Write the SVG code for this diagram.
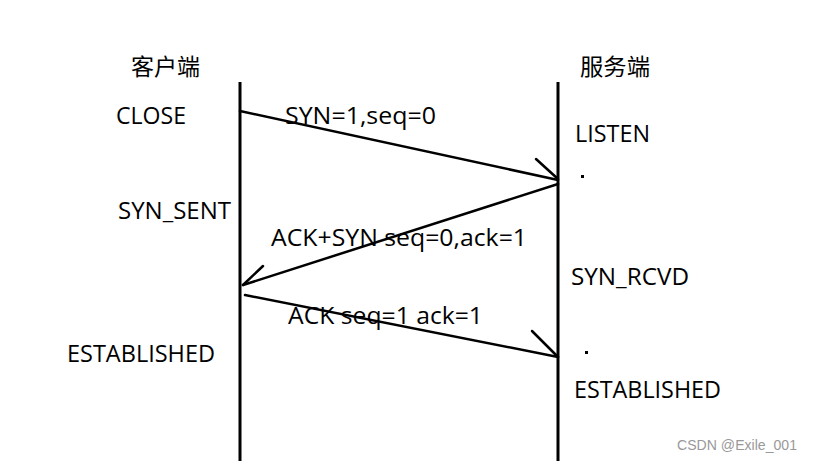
<svg xmlns="http://www.w3.org/2000/svg" width="813" height="461" viewBox="0 0 813 461">
<style>
.t{font-family:"Microsoft YaHei","Open Sans","Noto Sans CJK SC",sans-serif;font-size:23px;fill:#000}
.ln{stroke:#000;stroke-width:3;fill:none}
.ar{stroke:#000;stroke-width:2.5;fill:none;stroke-linecap:round}
.wm{font-family:"Liberation Sans",sans-serif;font-size:14px;fill:#999}
</style>
<rect width="813" height="461" fill="#fff"/>
<g id="client">
<line class="ln" x1="240" y1="82" x2="240" y2="461"/>
<text class="t" x="131" y="75" textLength="69" lengthAdjust="spacingAndGlyphs">客户端</text>
<text class="t" x="116" y="124" textLength="70" lengthAdjust="spacingAndGlyphs">CLOSE</text>
<text class="t" x="118" y="219" textLength="113" lengthAdjust="spacingAndGlyphs">SYN_SENT</text>
<text class="t" x="67" y="362" textLength="148" lengthAdjust="spacingAndGlyphs">ESTABLISHED</text>
</g>
<g id="server">
<line class="ln" x1="558" y1="82" x2="558" y2="461"/>
<text class="t" x="580" y="75" textLength="70" lengthAdjust="spacingAndGlyphs">服务端</text>
<text class="t" x="575" y="142" textLength="75" lengthAdjust="spacingAndGlyphs">LISTEN</text>
<rect x="581" y="175" width="3" height="3" fill="#000"/>
<text class="t" x="571" y="285" textLength="118" lengthAdjust="spacingAndGlyphs">SYN_RCVD</text>
<rect x="585" y="351" width="3" height="3" fill="#000"/>
<text class="t" x="574" y="398" textLength="147" lengthAdjust="spacingAndGlyphs">ESTABLISHED</text>
</g>
<g id="connectors">
<line class="ar" x1="240" y1="111" x2="558" y2="180"/>
<line class="ar" x1="536" y1="159" x2="558" y2="179"/>
<line class="ar" x1="558" y1="184" x2="243" y2="285"/>
<line class="ar" x1="263" y1="266" x2="243" y2="285"/>
<line class="ar" x1="245" y1="295" x2="558" y2="357"/>
<line class="ar" x1="532" y1="331" x2="558" y2="357"/>
<text class="t" x="285" y="124" textLength="151" lengthAdjust="spacingAndGlyphs">SYN=1,seq=0</text>
<text class="t" x="271" y="246" textLength="256" lengthAdjust="spacingAndGlyphs">ACK+SYN seq=0,ack=1</text>
<text class="t" x="288" y="324" textLength="195" lengthAdjust="spacingAndGlyphs">ACK seq=1 ack=1</text>
</g>
<text class="wm" x="677" y="450" textLength="120" lengthAdjust="spacingAndGlyphs">CSDN @Exile_001</text>
</svg>
